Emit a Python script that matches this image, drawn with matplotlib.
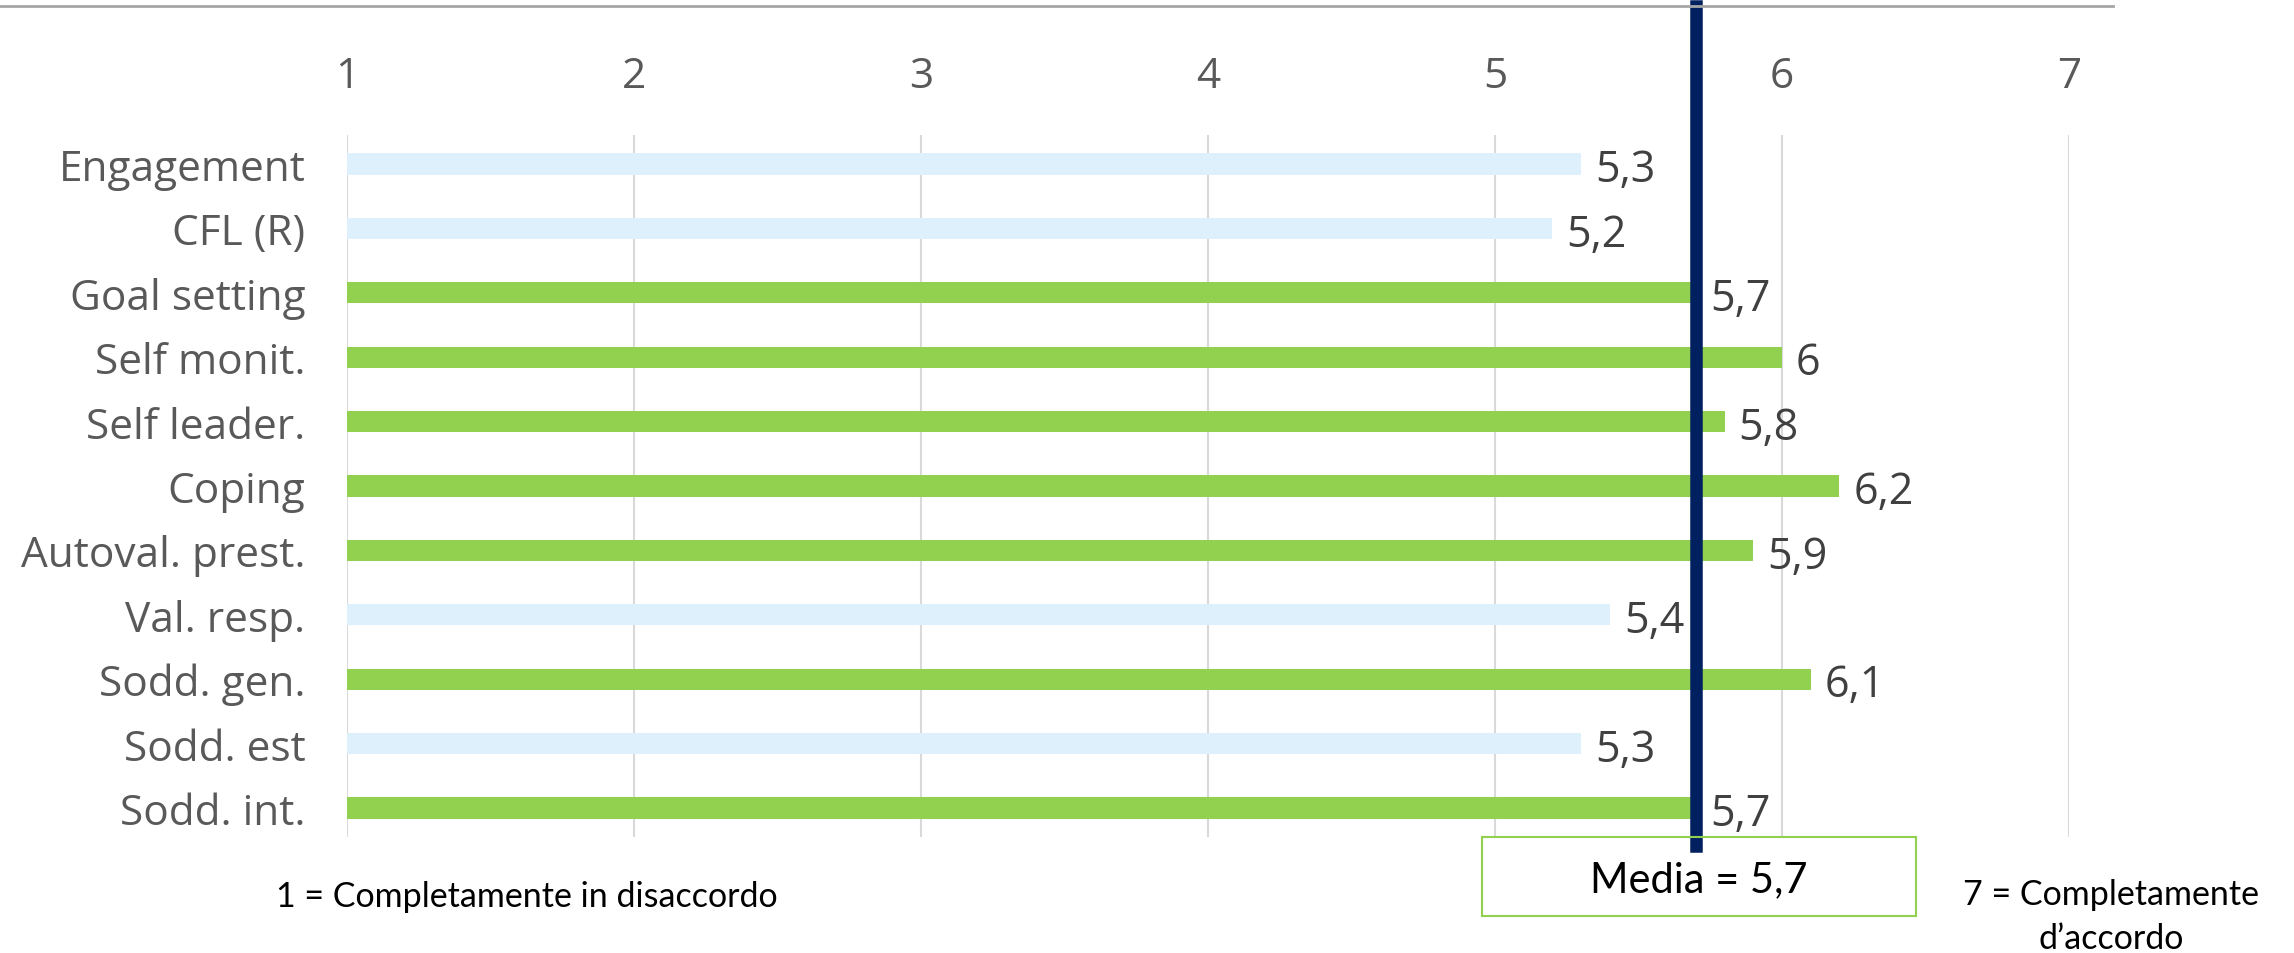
import matplotlib
matplotlib.use('Agg')
import matplotlib.pyplot as plt
from matplotlib.patches import Rectangle
from matplotlib.lines import Line2D

plt.rcParams['font.family'] = ['Open Sans', 'DejaVu Sans']

# Punteggi medi per scala (1-7)
categorie = ['Engagement', 'CFL (R)', 'Goal setting', 'Self monit.', 'Self leader.',
             'Coping', 'Autoval. prest.', 'Val. resp.', 'Sodd. gen.', 'Sodd. est',
             'Sodd. int.']
valori = [5.3, 5.2, 5.7, 6.0, 5.8, 6.2, 5.9, 5.4, 6.1, 5.3, 5.7]
etichette = ['5,3', '5,2', '5,7', '6', '5,8', '6,2', '5,9', '5,4', '6,1', '5,3', '5,7']
media = 5.7
scala = [1, 2, 3, 4, 5, 6, 7]

VERDE = '#92D050'
AZZURRO = '#DDF0FB'
BLU = '#002060'
GRIGIO = '#595959'
NOTE = ['Lato', 'DejaVu Sans']

W, H = 2294, 954
fig = plt.figure(figsize=(W / 100, H / 100), dpi=100)
ax = fig.add_axes([347 / W, 1 - 838 / H, (2069 - 347) / W, (838 - 136) / H])

colori = [VERDE if v >= media else AZZURRO for v in valori]
y = list(range(len(categorie)))
ax.barh(y, [v - 1 for v in valori], left=1, height=0.33, color=colori, zorder=2)

for yi, v, t in zip(y, valori, etichette):
    ax.annotate(t, (v, yi), xytext=(14, -6), textcoords='offset pixels',
                ha='left', va='center', fontsize=31, color='#404040', zorder=4)

ax.set_xlim(1, 7)
ax.set_ylim(len(categorie) - 0.55, -0.45)
ax.set_xticks(scala)
ax.set_xticklabels([str(s) for s in scala])
ax.xaxis.tick_top()
ax.tick_params(axis='x', length=0, pad=27, labelsize=30.5, labelcolor=GRIGIO)
ax.set_yticks(y)
ax.set_yticklabels(categorie)
ax.tick_params(axis='y', length=0, pad=30, labelsize=30.5, labelcolor=GRIGIO)
ax.grid(axis='x', color='#D9D9D9', linewidth=1.5, zorder=0)
for s in ax.spines.values():
    s.set_visible(False)

# linea della media, prolungata oltre l'area del grafico
ax.axvline(media, ymin=-0.013, ymax=1.184, color=BLU, linewidth=9,
           clip_on=False, zorder=3)

# linea grigia in alto
fig.add_artist(Line2D([0, 2113 / W], [1 - 7 / H, 1 - 7 / H], color='#A6A6A6',
                      linewidth=2))

# riquadro con la media
fig.add_artist(Rectangle((1482 / W, 1 - 917 / H), (1916 - 1482) / W, (917 - 838) / H,
                         facecolor='none', edgecolor=VERDE, linewidth=1.5))
fig.text(1699 / W, 1 - 880 / H, 'Media = 5,7', ha='center', va='center',
         fontsize=30, color='black', family=NOTE)

fig.text(527 / W, 1 - 897 / H, '1 = Completamente in disaccordo', ha='center',
         va='center', fontsize=24.5, color='black', family=NOTE)
fig.text(2111 / W, 1 - 917 / H, '7 = Completamente\nd\u2019accordo', ha='center',
         va='center', fontsize=24.5, color='black', linespacing=1.45, family=NOTE)

fig.savefig('out.png', dpi=100)
